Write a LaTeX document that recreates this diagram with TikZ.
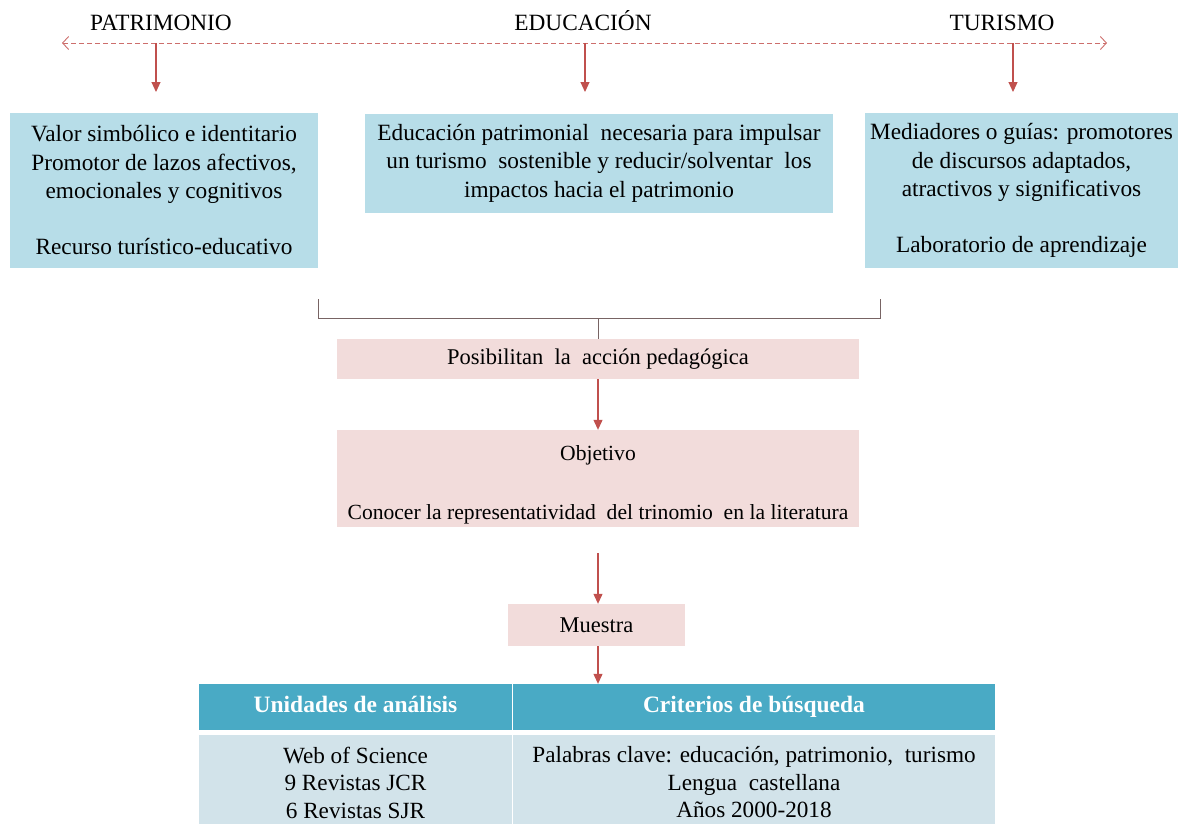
\documentclass[tikz,border=0pt]{standalone}
\usepackage{fontspec}
\setmainfont{Liberation Serif}
\usetikzlibrary{arrows.meta}
\definecolor{boxblue}{RGB}{183,221,232}
\definecolor{boxpink}{RGB}{242,220,219}
\definecolor{arrred}{RGB}{192,80,77}
\definecolor{dashred}{RGB}{205,110,108}
\definecolor{brk}{RGB}{120,100,100}
\definecolor{headteal}{RGB}{73,170,197}
\definecolor{bodyblue}{RGB}{210,227,234}
\tikzset{
  lbl/.style={font=\fontsize{23.3}{27}\selectfont, inner sep=0pt, anchor=base},
  bluebox/.style={fill=boxblue, inner sep=0pt, align=center, font=\fontsize{23.3}{28.5}\selectfont},
  pinkbox/.style={fill=boxpink, inner sep=0pt, align=center, font=\fontsize{22.5}{27}\selectfont},
  downarr/.style={draw=arrred, line width=1.1pt, -{Triangle[length=10pt,width=9pt]}},
  dashline/.style={draw=dashred, line width=0.9pt, dash pattern=on 5pt off 3pt, {Straight Barb[length=6pt,width=13pt]}-{Straight Barb[length=6pt,width=13pt]}},
  headcell/.style={fill=headteal, text=white, inner sep=0pt, text height=16pt, text depth=5pt, font=\bfseries\fontsize{23.5}{27}\selectfont},
  bodycell/.style={fill=bodyblue, inner sep=0pt, align=center, font=\fontsize{23.2}{27.5}\selectfont},
}
\begin{document}
\begin{tikzpicture}[x=1pt,y=-1pt]
\useasboundingbox (0,0) rectangle (1190,823);
% top labels
\node[lbl] (pat) at (161,30) {PATRIMONIO};
\node[lbl] (edu) at (583,30) {EDUCACIÓN};
\node[lbl] (tur) at (1002,30) {TURISMO};
% dashed axis
\coordinate (dl) at (62,43);
\coordinate (dr) at (1107,43);
\draw[dashline] (dl) -- (dr);
\coordinate (p1) at (156,43);  \coordinate (p2) at (156,92);
\coordinate (e1) at (585,43);  \coordinate (e2) at (585,92);
\coordinate (t1) at (1013,43); \coordinate (t2) at (1013,92);
\draw[downarr] (p1) -- (p2);
\draw[downarr] (e1) -- (e2);
\draw[downarr] (t1) -- (t2);
% blue boxes
\node[bluebox, minimum width=308pt, minimum height=155pt] (bL) at (164,190.5)
  {Valor simbólico e identitario\\Promotor de lazos afectivos,\\emocionales y cognitivos\\[27.5pt]Recurso turístico-educativo};
\node[bluebox, minimum width=468pt, minimum height=99pt] (bM) at (599,163)
  {Educación patrimonial\ \ necesaria para impulsar\\un turismo\ \ sostenible y reducir/solventar\ \ los\\impactos hacia el patrimonio};
\node[bluebox, minimum width=313pt, minimum height=155pt] (bR) at (1021.5,190.5)
  {Mediadores o guías: promotores\\de discursos adaptados,\\atractivos y significativos\\[27.5pt]Laboratorio de aprendizaje};
% bracket
\coordinate (kL) at (318,299);
\coordinate (kR) at (880,299);
\coordinate (kM) at (598,318);
\draw[brk, line width=1pt] (kL) |- (kM) -| (kR);
% pink boxes
\node[pinkbox, minimum width=522pt, minimum height=40pt] (pos) at (598,359)
  {Posibilitan\ \ la\ \ acción pedagógica};
\draw[brk, line width=1pt] (kM) -- (pos.north);
\node[pinkbox, font=\fontsize{21.6}{27}\selectfont, minimum width=522pt, minimum height=97pt] (obj) at (598,478.5)
  {\rule{0pt}{28pt}Objetivo\\[32pt]Conocer la representatividad\ \ del trinomio\ \ en la literatura};
\draw[downarr] (pos.south) -- (obj.north);
\node[pinkbox, minimum width=177pt, minimum height=42pt] (mue) at (596.5,625) {Muestra};
\coordinate (o2) at (598,553);
\draw[downarr] (o2) -- (o2 |- mue.north);
% table
\node[headcell, minimum width=313pt, minimum height=46pt] (h1) at (355.5,707) {Unidades de análisis};
\node[headcell, minimum width=482pt, minimum height=46pt] (h2) at (754,707) {Criterios de búsqueda};
\node[bodycell, minimum width=313pt, minimum height=95pt] (c1) at (355.5,782.5)
  {Web of Science\\9 Revistas JCR\\6 Revistas SJR};
\node[bodycell, minimum width=482pt, minimum height=95pt] (c2) at (754,782.5)
  {Palabras clave: educación, patrimonio,\ \ turismo\\Lengua\ \ castellana\\Años 2000-2018};
\draw[white, line width=1.2pt] (h1.north east) -- (c1.south east);
\coordinate (m2) at (598,646);
\draw[downarr] (m2) -- (m2 |- h2.north);
\end{tikzpicture}
\end{document}
